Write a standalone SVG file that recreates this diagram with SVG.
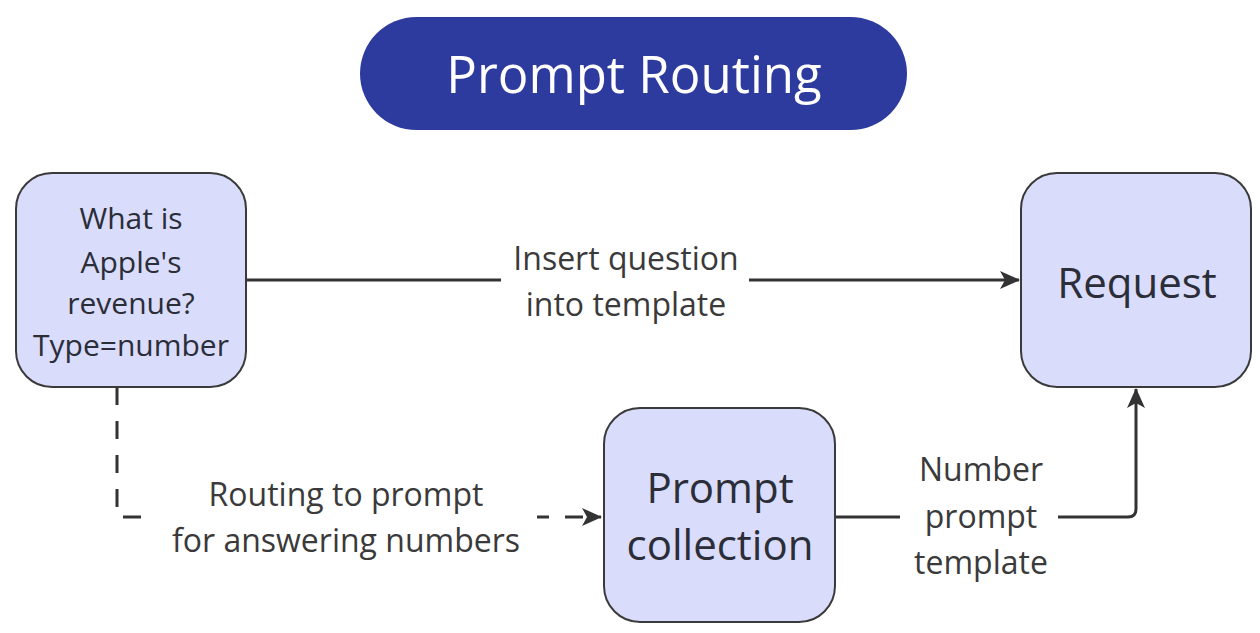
<svg xmlns="http://www.w3.org/2000/svg" width="1260" height="633" viewBox="0 0 1260 633">
<defs>
<marker id="arr" markerWidth="22" markerHeight="22" refX="19" refY="11" orient="auto" markerUnits="userSpaceOnUse">
<path d="M0,2 L20,11 L0,20 L5,11 Z" fill="#333"/>
</marker>
<style>
.node{fill:#d9dcfa;stroke:#3a3a3a;stroke-width:2}
.nt{font-family:"Open Sans","Noto Sans",sans-serif;fill:#2b2d38;text-anchor:middle}
.lbl{font-family:"Open Sans","Noto Sans",sans-serif;fill:#3a3a3a;text-anchor:middle;font-size:32px}
.edge{fill:none;stroke:#333;stroke-width:3}
.bg{fill:#fff}
</style>
</defs>
<rect width="1260" height="633" fill="#fff"/>
<g id="title">
<rect x="360" y="17" width="547" height="113" rx="56.5" fill="#2e3b9e"/>
<text x="634" y="93" font-family="'Open Sans','Noto Sans',sans-serif" font-size="51" fill="#fff" text-anchor="middle">Prompt Routing</text>
</g>
<g id="connectors">
<path class="edge" d="M246,280 L1019,280" marker-end="url(#arr)"/>
<path class="edge" d="M117,387 L117,517 L601,517" stroke-dasharray="18,16" marker-end="url(#arr)"/>
<path class="edge" d="M835,517 L1128,517 Q1136,517 1136,509 L1136,389" marker-end="url(#arr)"/>
<rect class="bg" x="501" y="230" width="248" height="96"/>
<rect class="bg" x="150" y="470" width="387" height="90"/>
<rect class="bg" x="900" y="448" width="158" height="140"/>
<text class="lbl" x="626" y="270">Insert question</text>
<text class="lbl" x="626" y="316">into template</text>
<text class="lbl" x="346" y="506">Routing to prompt</text>
<text class="lbl" x="346" y="552">for answering numbers</text>
<text class="lbl" x="981" y="481">Number</text>
<text class="lbl" x="981" y="528">prompt</text>
<text class="lbl" x="981" y="574">template</text>
</g>
<g id="question">
<rect class="node" x="16" y="173" width="230" height="214" rx="36"/>
<text class="nt" font-size="30" x="131" y="229">What is</text>
<text class="nt" font-size="30" x="131" y="273">Apple's</text>
<text class="nt" font-size="30" x="131" y="314">revenue?</text>
<text class="nt" font-size="30" x="131" y="356">Type=number</text>
</g>
<g id="request">
<rect class="node" x="1021" y="173" width="230" height="214" rx="36"/>
<text class="nt" font-size="42" x="1137" y="298">Request</text>
</g>
<g id="collection">
<rect class="node" x="604" y="408" width="231" height="214" rx="36"/>
<text class="nt" font-size="42" x="720" y="503">Prompt</text>
<text class="nt" font-size="42" x="720" y="560">collection</text>
</g>
</svg>
